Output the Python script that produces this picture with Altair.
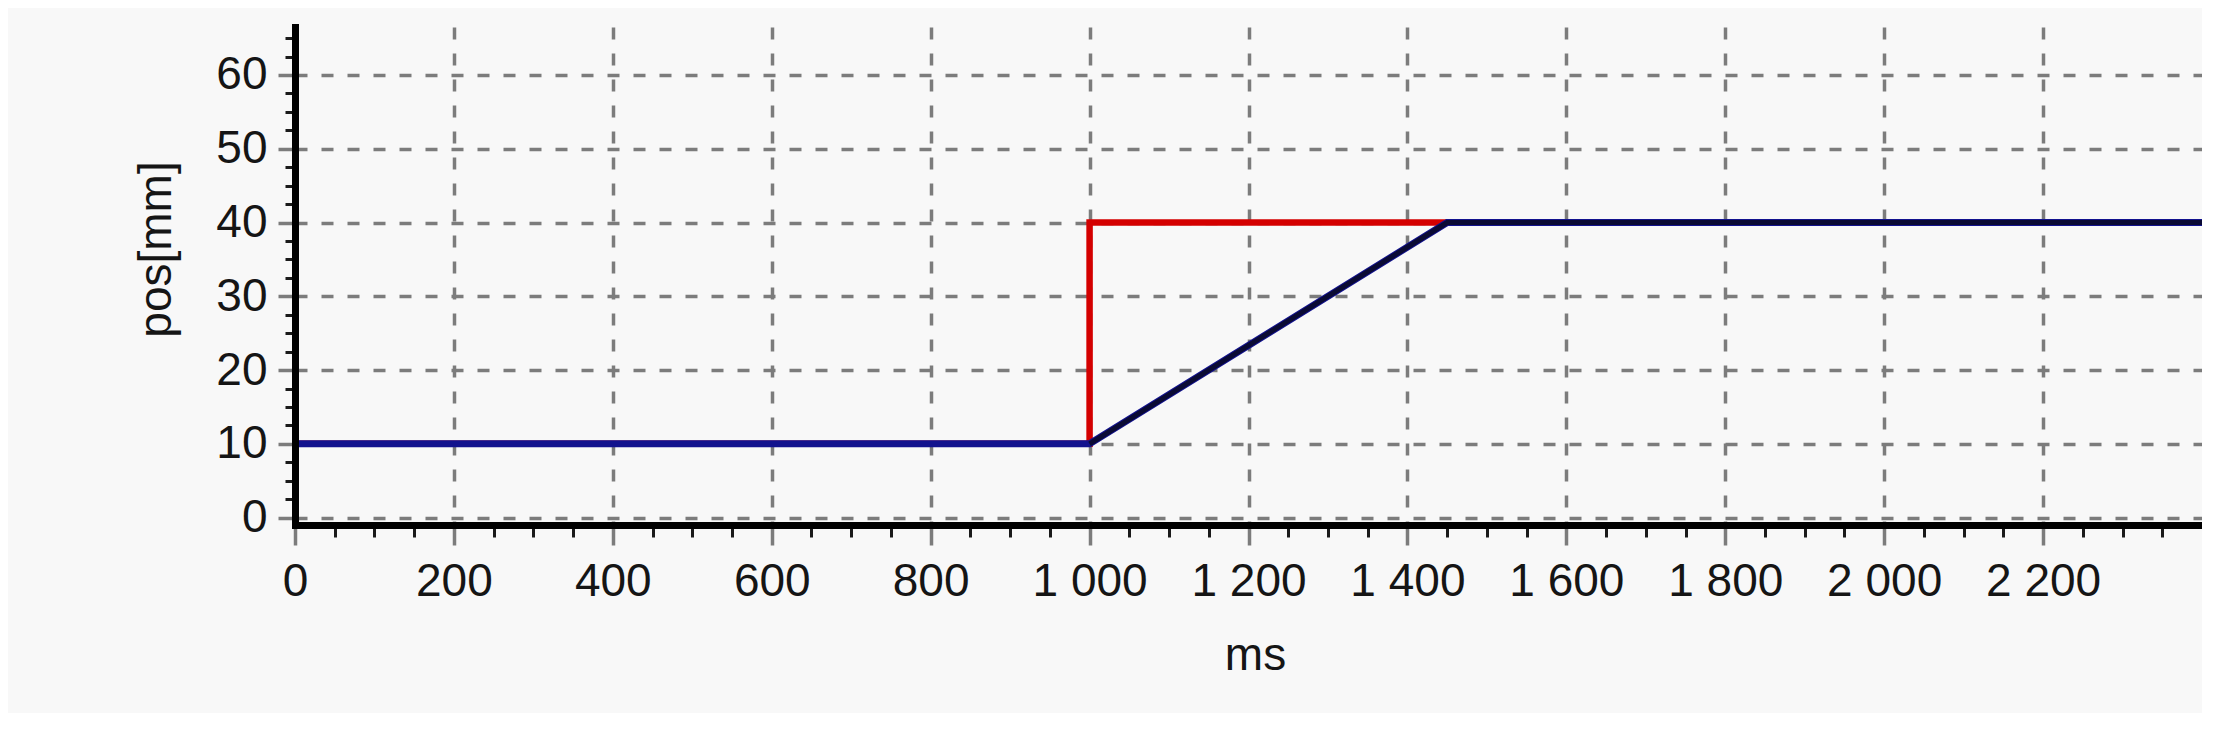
import altair as alt
import pandas as pd

# ---- data ----
t_red = [0, 1000, 1000, 1450, 2400]
pos_red = [10, 10, 40, 40, 40]

t_blue = [0, 1000, 1450, 2400]
pos_blue = [10, 10, 40, 40]

t_black = [1000, 1450, 2400]
pos_black = [10, 40, 40]

x_major = [0, 200, 400, 600, 800, 1000, 1200, 1400, 1600, 1800, 2000, 2200]
x_minor = [v for v in range(50, 2400, 50) if v % 200 != 0]
y_major = [0, 10, 20, 30, 40, 50, 60]
y_minor = [v * 2.5 for v in range(0, 27) if (v * 2.5) % 10 != 0]

df_red = pd.DataFrame({"t": t_red, "pos": pos_red, "i": range(len(t_red))})
df_blue = pd.DataFrame({"t": t_blue, "pos": pos_blue, "i": range(len(t_blue))})
df_black = pd.DataFrame({"t": t_black, "pos": pos_black, "i": range(len(t_black))})

FONT = "Liberation Sans"
GRID = "#7c7c7c"
TXT = "#151515"
xs = alt.Scale(domain=[0, 2400], nice=False, zero=False)
ys = alt.Scale(domain=[-1, 66.5], nice=False, zero=False)

x_major_axis = alt.Axis(
    values=x_major, title="ms", orient="bottom", domain=False,
    grid=True, gridColor=GRID, gridDash=[12, 14], gridWidth=3.5, gridOpacity=1,
    ticks=True, tickSize=20, tickColor=GRID, tickWidth=3.5,
    labelExpr="replace(format(datum.value, ','), ',', ' ')",
    labelFont=FONT, labelFontSize=46, labelColor=TXT, labelPadding=14,
    labelFlush=False, labelOverlap=False,
    titleFont=FONT, titleFontSize=46, titleColor=TXT, titleFontWeight="normal",
    titleBaseline="alphabetic", titleX=960, titleY=144,
)
y_major_axis = alt.Axis(
    values=y_major, title="pos[mm]", orient="left", domain=False,
    grid=True, gridColor=GRID, gridDash=[12, 14], gridWidth=3.5, gridOpacity=1,
    ticks=True, tickSize=17, tickColor=GRID, tickWidth=3.5,
    labelFont=FONT, labelFontSize=46, labelColor=TXT, labelPadding=11,
    labelOverlap=False,
    titleFont=FONT, titleFontSize=46, titleColor=TXT, titleFontWeight="normal",
    titleAngle=270, titleBaseline="alphabetic", titleX=-125, titleY=222,
)
x_minor_axis = alt.Axis(
    values=x_minor, orient="bottom", title=None, labels=False, grid=False,
    domain=True, domainColor="#000000", domainWidth=7, domainCap="square",
    ticks=True, tickSize=12, tickColor="#1a1a1a", tickWidth=3, zindex=1,
)
y_minor_axis = alt.Axis(
    values=y_minor, orient="left", title=None, labels=False, grid=False,
    domain=True, domainColor="#000000", domainWidth=7, domainCap="square",
    ticks=True, tickSize=10, tickColor="#1a1a1a", tickWidth=3, zindex=1,
)

red = alt.Chart(df_red).mark_line(color="#d40000", strokeWidth=6.5).encode(
    x=alt.X("t:Q", scale=xs, axis=x_major_axis),
    y=alt.Y("pos:Q", scale=ys, axis=y_major_axis),
    order="i:Q",
)
blue = alt.Chart(df_blue).mark_line(color="#12128e", strokeWidth=7).encode(
    x=alt.X("t:Q", scale=xs, axis=x_minor_axis),
    y=alt.Y("pos:Q", scale=ys, axis=y_minor_axis),
    order="i:Q",
)
black = alt.Chart(df_black).mark_line(color="#0a0a34", strokeWidth=5).encode(
    x=alt.X("t:Q", scale=xs, axis=None),
    y=alt.Y("pos:Q", scale=ys, axis=None),
    order="i:Q",
)

chart = (
    alt.layer(red, blue, black)
    .resolve_axis(x="independent", y="independent")
    .properties(
        width=1907, height=498,
        autosize=alt.AutoSizeParams(type="none"),
        padding={"left": 287, "top": 19, "right": 0, "bottom": 188},
        background="#f8f8f8",
    )
    .configure_view(stroke=None)
)

chart.save("out.html", embed_options={"renderer": "svg", "actions": False})
